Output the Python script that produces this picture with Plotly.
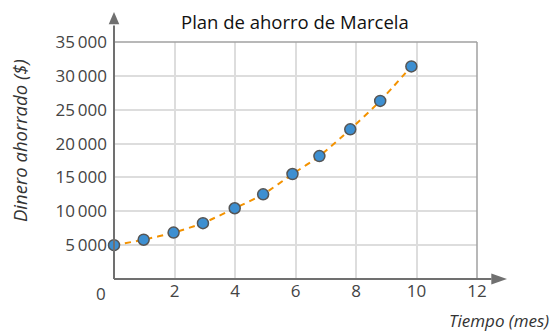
import plotly.graph_objects as go

meses = [0, 0.98, 1.97, 2.94, 3.99, 4.93, 5.9, 6.79, 7.81, 8.8, 9.83]
dinero = [5000, 5800, 6850, 8250, 10450, 12500, 15500, 18150, 22100, 26300, 31400]
x_ticks = [2, 4, 6, 8, 10, 12]
y_ticks = [5000, 10000, 15000, 20000, 25000, 30000, 35000]
y_labels = ["5\u2009000", "10\u2009000", "15\u2009000", "20\u2009000", "25\u2009000", "30\u2009000", "35\u2009000"]
titulo = "Plan de ahorro de Marcela"
font = "Open Sans"
gray = "#707070"

fig = go.Figure()
fig.add_trace(go.Scatter(
    x=meses, y=dinero, mode="lines+markers",
    line=dict(color="#f39200", width=2, dash="6px,5px", shape="spline", smoothing=0.6),
    marker=dict(size=11, color="#3d8fd1", line=dict(color="#555555", width=1.5)),
    cliponaxis=False, showlegend=False,
))

fig.update_layout(
    width=555, height=332,
    margin=dict(l=114, r=78, t=42, b=53),
    paper_bgcolor="white", plot_bgcolor="white",
    font=dict(family=font, color="#333333", size=17),
    xaxis=dict(range=[0, 12], tickvals=x_ticks, ticktext=[str(v) for v in x_ticks],
               showgrid=True, gridcolor="#dddddd", gridwidth=1.5,
               zeroline=False, showline=False, ticks="", tickfont=dict(size=17, color="#444444")),
    yaxis=dict(range=[0, 35000], tickvals=y_ticks, ticktext=y_labels, showgrid=True, gridcolor="#dddddd",
               gridwidth=1.5, zeroline=False, showline=False, ticks="", ticklabelstandoff=6,
               tickfont=dict(size=17, color="#444444")),
    annotations=[
        dict(text=titulo, x=0.499, y=1.087, xref="paper", yref="paper", showarrow=False,
             font=dict(size=18.5, color="#111111"), xanchor="center", yanchor="middle"),
        dict(text="<i>Dinero ahorrado ($)</i>", x=-0.262, y=0.586, xref="paper", yref="paper",
             textangle=-90, showarrow=False, font=dict(size=18.5, color="#333333"),
             xanchor="center", yanchor="middle"),
        dict(text="<i>Tiempo (mes)</i>", x=1.204, y=-0.1755, xref="paper", yref="paper",
             showarrow=False, xanchor="right", yanchor="middle", font=dict(size=17, color="#333333")),
        dict(text="0", x=0, y=0, xref="x", yref="paper", showarrow=False, xshift=-13, yshift=-14,
             font=dict(size=17, color="#444444"), yanchor="middle"),
    ],
    shapes=[
        dict(type="line", xref="paper", yref="paper", x0=0, x1=1, y0=1, y1=1, line=dict(color="#a0a0a0", width=1.5)),
        dict(type="line", xref="paper", yref="paper", x0=1, x1=1, y0=0, y1=1, line=dict(color="#a0a0a0", width=1.5)),
        dict(type="line", xref="paper", yref="paper", x0=0, x1=0, y0=0, y1=1.07, line=dict(color=gray, width=2)),
        dict(type="line", xref="paper", yref="paper", x0=0, x1=1.04, y0=0, y1=0, line=dict(color=gray, width=2)),
        dict(type="path", xref="paper", yref="paper",
             path="M -0.0146 1.0745 L 0.0146 1.0745 L 0 1.1265 Z", fillcolor=gray, line=dict(width=0)),
        dict(type="path", xref="paper", yref="paper",
             path="M 1.0394 -0.0231 L 1.0394 0.0231 L 1.0826 0 Z", fillcolor=gray, line=dict(width=0)),
    ],
)
fig.write_html("out.html", config={"displayModeBar": False},
               post_script="document.body.style.margin='0';document.body.style.overflow='hidden';")
